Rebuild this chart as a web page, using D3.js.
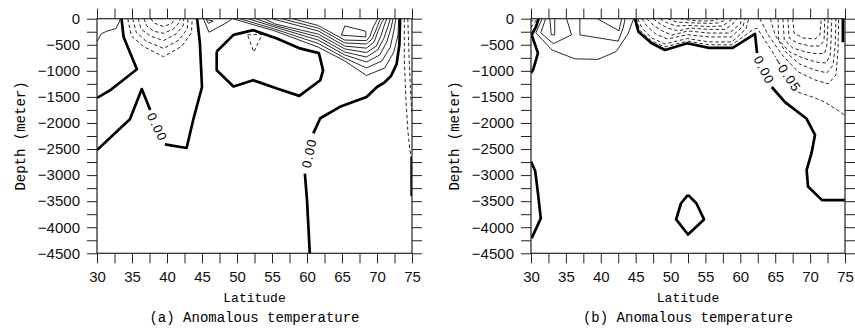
<!DOCTYPE html>
<html>
<head>
<meta charset="utf-8">
<script src="https://cdn.jsdelivr.net/npm/d3@7"></script>
<style>
body { margin: 0; background: #fff; }
</style>
</head>
<body>
<script>
// axis ticks and labels
var latTicks = [30, 32.5, 35, 37.5, 40, 42.5, 45, 47.5, 50, 52.5, 55, 57.5, 60, 62.5, 65, 67.5, 70, 72.5, 75];
var latLabels = [30, 35, 40, 45, 50, 55, 60, 65, 70, 75];
var depthTicks = [0, -250, -500, -750, -1000, -1250, -1500, -1750, -2000, -2250, -2500, -2750, -3000, -3250, -3500, -3750, -4000, -4250, -4500];
var depthLabels = [0, -500, -1000, -1500, -2000, -2500, -3000, -3500, -4000, -4500];

// (a) contours as [latitude, depth] lines
var aZero = [ // 0.00 contour (thick)
  [[33.5,0],[33.8,-350],[35.7,-970],[33.7,-1180],[31.9,-1370],[30,-1520]],
  [[30,-2520],[34.7,-1930],[36.4,-1350],[37.6,-1750]],
  [[39.7,-2410],[42.8,-2480],[43.8,-1910],[45.0,-1310],[44.7,-470],[44.3,0]],
  [[73.3,0],[73.2,-500],[72.8,-870],[72.0,-1100],[71.1,-1220],[70.0,-1310],[68.5,-1500],[64.7,-1690],[61.9,-1910],[60.9,-2200]],
  [[59.7,-2970],[60.0,-3480],[60.4,-4500]],
  [[47.1,-630],[49.5,-310],[52.3,-220],[55.7,-380],[59.0,-570],[61.7,-660],[62.3,-990],[61.9,-1180],[58.9,-1480],[55.7,-1340],[52.3,-1180],[49.5,-1300],[47.1,-990],[47.1,-630]],
  [[74.95,-2650],[74.95,-3400]]
];
var aPos = [ // positive contours (thin)
  [[30,-440],[30.6,-290],[31.4,-240],[32.7,-190],[33.2,-60],[33.3,0]],
  [[45.2,0],[46.0,-260],[48.6,-70],[49.3,0]],
  [[45.6,-15],[46.6,-45],[45.9,-90],[45.6,-15]],
  [[49.4,0],[55.4,-235],[61.6,-545],[65.4,-810],[68.5,-1090],[71.1,-945],[72.4,-640],[73.0,-315],[73.1,0]],
  [[50.4,0],[55.4,-200],[61.6,-475],[65.4,-755],[68.5,-945],[70.7,-810],[71.9,-545],[72.4,-235],[72.7,0]],
  [[51.6,0],[55.4,-160],[61.6,-410],[65.4,-695],[68.5,-830],[70.4,-695],[71.4,-445],[72.0,-180],[72.3,0]],
  [[52.7,0],[55.4,-130],[61.6,-350],[65.4,-640],[68.5,-735],[70.1,-600],[71.0,-370],[71.6,-140],[71.9,0]],
  [[53.9,0],[55.4,-100],[61.6,-295],[65.4,-580],[68.5,-650],[69.9,-525],[70.6,-315],[71.1,-100],[71.4,0]],
  [[55.0,0],[61.6,-235],[65.4,-525],[68.5,-565],[69.6,-445],[70.1,-255],[70.7,-65],[71.0,0]],
  [[56.4,0],[61.6,-180],[65.4,-465],[68.5,-485],[69.3,-390],[69.9,-200],[70.4,-25],[70.6,0]],
  [[57.9,0],[61.6,-130],[65.4,-410],[68.5,-420],[69.0,-340],[69.4,-180],[70.0,-25],[70.1,0]],
  [[64.9,-315],[65.4,-140],[68.4,-240],[68.4,-350],[64.9,-315]]
];
var aNeg = [ // negative contours (dashed)
  [[34.4,0],[34.9,-330],[36.6,-530],[39.5,-730],[42.1,-530],[43.5,-270],[43.6,0]],
  [[35.1,0],[35.6,-260],[37.0,-430],[39.5,-570],[41.7,-410],[42.9,-200],[43.0,0]],
  [[35.9,0],[36.3,-200],[37.6,-330],[39.5,-420],[41.3,-290],[42.3,-140],[42.4,0]],
  [[36.7,0],[37.1,-140],[38.1,-240],[39.5,-280],[40.9,-200],[41.7,-80],[41.9,0]],
  [[37.7,0],[38.1,-80],[39.5,-150],[40.7,-90],[41.1,0]],
  [[51.5,-310],[53.6,-300],[52.4,-640],[51.5,-310]],
  [[73.9,0],[73.9,-790],[74.1,-1460],[74.4,-2140],[74.7,-2520],[75.0,-2710]],
  [[74.4,0],[74.6,-790],[74.85,-1560],[75,-1850]]
];
var aLabels = [
  {text: '0.00', lat: 38.6, depth: -2080, angle: 64},
  {text: '0.00', lat: 60.3, depth: -2580, angle: -78}
];

// (b) contours
var bZero = [
  [[31.1,0],[30.7,-160],[30.1,-310],[31.0,-660],[30.3,-980],[30,-1040]],
  [[44.9,0],[45.4,-250],[47.3,-470],[49.2,-600],[52.4,-470],[55.5,-560],[58.9,-560],[62.1,-290],[62.4,-660]],
  [[64.5,-1310],[66.4,-1600],[69.5,-1920],[70.7,-2230],[70.2,-2580],[69.5,-2900],[69.7,-3220],[71.7,-3480],[75,-3480]],
  [[30,-2740],[30.6,-2920],[31.0,-3350],[31.4,-3830],[30.1,-4210]],
  [[52.5,-3380],[53.7,-3540],[54.8,-3850],[52.5,-4140],[50.8,-3850],[51.5,-3540],[52.5,-3380]],
  [[74.7,0],[74.7,-450]]
];
var bPos = [
  [[31.6,0],[30.7,-270],[33.0,-600],[36.3,-770],[39.6,-780],[42.2,-630],[43.9,-290],[44.7,0]],
  [[32.1,0],[31.4,-270],[33.2,-480],[35.8,-310],[35.1,0]],
  [[32.7,0],[32.9,-310],[33.4,-310],[33.4,0]],
  [[37.0,0],[37.0,-310],[42.5,-430],[43.2,-180],[43.5,0]],
  [[39.5,0],[42.6,-230],[43.0,0]]
];
var bNeg = [
  [[30,-70],[30.5,0]],
  [[30,-170],[30.9,0]],
  [[45.1,0],[45.6,-220],[47.3,-430],[49.2,-540],[52.4,-430],[55.5,-500],[58.8,-500],[61.7,-220],[62.4,-180],[63.5,-410],[65.1,-740]],
  [[68.3,-1410],[70.3,-1500],[72.1,-1600],[74.0,-1760],[75,-1850]],
  [[45.3,0],[45.9,-180],[47.3,-370],[49.2,-485],[52.4,-380],[55.5,-445],[58.8,-445],[60.8,-200],[61.2,0]],
  [[45.9,0],[46.6,-140],[47.9,-295],[49.6,-390],[52.4,-305],[55.5,-350],[58.7,-350],[60.4,-140],[60.7,0]],
  [[46.6,0],[47.5,-120],[48.8,-235],[50.2,-315],[52.5,-235],[55.5,-275],[58.4,-275],[60.0,-100],[60.2,0]],
  [[47.5,0],[48.5,-100],[49.6,-180],[51.1,-235],[52.8,-180],[55.5,-205],[57.9,-205],[59.2,-65],[59.5,0]],
  [[48.5,0],[49.5,-80],[50.8,-140],[52.8,-130],[55.5,-150],[57.4,-140],[58.5,-45],[58.8,0]],
  [[49.6,0],[50.9,-65],[53.1,-80],[55.5,-90],[56.8,-80],[57.7,-35],[57.9,0]],
  [[51.4,0],[53.1,-35],[54.9,-45],[56.4,-35],[56.8,0]],
  [[62.8,0],[64.0,-315],[66.0,-695],[68.3,-1020],[70.7,-1175],[72.6,-1250],[73.7,-1080],[74.0,-600],[74.1,0]],
  [[64.3,0],[65.0,-315],[66.5,-640],[68.5,-870],[70.7,-985],[72.4,-1040],[73.3,-890],[73.6,-505],[73.7,0]],
  [[65.4,0],[65.5,-410],[67.1,-640],[69.0,-755],[70.8,-830],[72.3,-850],[72.9,-695],[73.0,-410],[73.1,0]],
  [[66.1,0],[66.3,-410],[67.5,-560],[69.4,-640],[71.1,-675],[72.1,-660],[72.4,-505],[72.6,0]],
  [[66.8,0],[67.0,-370],[68.1,-465],[70.0,-525],[71.4,-525],[72.0,-410],[72.1,0]],
  [[67.5,0],[67.7,-275],[69.0,-370],[70.7,-390],[71.4,-315],[71.6,0]]
];
var bLabels = [
  {text: '0.00', lat: 63.4, depth: -985, angle: 63},
  {text: '\u22120.05', lat: 66.7, depth: -1070, angle: 56}
];

var panels = [
  {left: 97, right: 412, caption: '(a) Anomalous temperature', zero: aZero, pos: aPos, neg: aNeg, labels: aLabels},
  {left: 531, right: 845, caption: '(b) Anomalous temperature', zero: bZero, pos: bPos, neg: bNeg, labels: bLabels}
];

var scr = {w: 855, h: 329, top: 18.7, bottom: 253.3};
var mono = '"Liberation Mono", "DejaVu Sans Mono", monospace';
var sans = '"Liberation Sans", Arial, sans-serif';

var svg = d3.select('body')
            .append('svg')
            .attr('width', scr.w)
            .attr('height', scr.h);

panels.forEach(function(p, i){
  var x = d3.scaleLinear().domain([30, 75]).range([p.left, p.right]);
  var y = d3.scaleLinear().domain([0, -4500]).range([scr.top, scr.bottom]);
  var line = d3.line()
               .x(function(d){ return x(d[0]); })
               .y(function(d){ return y(d[1]); });

  var g = svg.append('g');
  g.append('clipPath').attr('id', 'clip' + i)
   .append('rect')
   .attr('x', p.left).attr('y', scr.top)
   .attr('width', p.right - p.left).attr('height', scr.bottom - scr.top);

  var plot = g.append('g').attr('clip-path', 'url(#clip' + i + ')');

  plot.selectAll('path.neg')
      .data(p.neg).enter().append('path')
      .classed('neg', true)
      .attr('d', line)
      .attr('fill', 'none')
      .attr('stroke', '#111')
      .attr('stroke-width', 0.9)
      .attr('stroke-dasharray', '3.5,2.5');

  plot.selectAll('path.pos')
      .data(p.pos).enter().append('path')
      .classed('pos', true)
      .attr('d', line)
      .attr('fill', 'none')
      .attr('stroke', '#111')
      .attr('stroke-width', 0.9);

  plot.selectAll('path.zero')
      .data(p.zero).enter().append('path')
      .classed('zero', true)
      .attr('d', line)
      .attr('fill', 'none')
      .attr('stroke', '#000')
      .attr('stroke-width', 2.7)
      .attr('stroke-linejoin', 'round');

  g.selectAll('text.clab')
   .data(p.labels).enter().append('text')
   .classed('clab', true)
   .attr('transform', function(d){ return 'translate(' + x(d.lat) + ',' + y(d.depth) + ') rotate(' + d.angle + ')'; })
   .attr('text-anchor', 'middle')
   .attr('dy', '0.35em')
   .attr('font-family', sans)
   .attr('font-size', 13)
   .attr('letter-spacing', 1.2)
   .text(function(d){ return d.text; });

  // axes on all four sides, ticks outward
  var fmtLat = function(d){ return latLabels.indexOf(d) >= 0 ? d : ''; };
  var fmtDep = function(d){ return depthLabels.indexOf(d) >= 0 ? d3.format('d')(d) : ''; };
  var axes = [
    {axis: d3.axisBottom(x).tickValues(latTicks).tickFormat(fmtLat).tickPadding(8), t: 'translate(0,' + scr.bottom + ')'},
    {axis: d3.axisTop(x).tickValues(latTicks).tickFormat(''), t: 'translate(0,' + scr.top + ')'},
    {axis: d3.axisLeft(y).tickValues(depthTicks).tickFormat(fmtDep).tickPadding(7), t: 'translate(' + p.left + ',0)'},
    {axis: d3.axisRight(y).tickValues(depthTicks).tickFormat(''), t: 'translate(' + p.right + ',0)'}
  ];
  axes.forEach(function(a){
    var ag = g.append('g')
              .attr('transform', a.t)
              .call(a.axis.tickSize(10).tickSizeOuter(0));
    ag.select('.domain').remove();
    ag.selectAll('line').attr('stroke', '#222').attr('stroke-width', 1);
    ag.selectAll('text').attr('font-family', sans).attr('font-size', 15).attr('fill', '#111');
  });

  g.append('rect')
   .attr('x', p.left).attr('y', scr.top)
   .attr('width', p.right - p.left).attr('height', scr.bottom - scr.top)
   .attr('fill', 'none')
   .attr('stroke', '#222')
   .attr('stroke-width', 1.2);

  g.append('text')
   .attr('x', (p.left + p.right) / 2).attr('y', 301.5)
   .attr('text-anchor', 'middle')
   .attr('font-family', mono).attr('font-size', 13)
   .text('Latitude');

  g.append('text')
   .attr('transform', 'translate(' + (p.left - 72.5) + ',' + ((scr.top + scr.bottom) / 2) + ') rotate(-90)')
   .attr('text-anchor', 'middle')
   .attr('font-family', mono).attr('font-size', 14)
   .text('Depth (meter)');

  g.append('text')
   .attr('x', (p.left + p.right) / 2).attr('y', 322)
   .attr('text-anchor', 'middle')
   .attr('font-family', mono).attr('font-size', 14)
   .text(p.caption);
});
</script>
</body>
</html>
